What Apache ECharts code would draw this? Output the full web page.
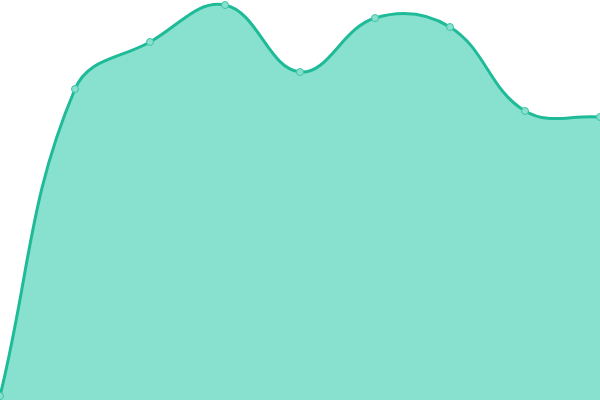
<!DOCTYPE html>
<html><head><meta charset="utf-8">
<script src="https://cdn.jsdelivr.net/npm/echarts@6/dist/echarts.min.js"></script>
<style>html,body{margin:0;padding:0;background:#fff}#c{width:600px;height:400px}</style>
</head><body><div id="c"></div>
<script>
const categories = ['1','2','3','4','5','6','7','8','9'];
const values = [4, 311, 358, 395, 328, 382, 373, 289, 283];
const TENSION = 0.4;

function splinePath(pts) {
  const n = pts.length;
  const cps = pts.map((cur, i) => {
    const prev = pts[Math.max(0, i - 1)];
    const next = pts[Math.min(n - 1, i + 1)];
    const d01 = Math.hypot(cur[0] - prev[0], cur[1] - prev[1]);
    const d12 = Math.hypot(next[0] - cur[0], next[1] - cur[1]);
    const tot = d01 + d12 || 1;
    const fa = TENSION * d01 / tot, fb = TENSION * d12 / tot;
    const vx = next[0] - prev[0], vy = next[1] - prev[1];
    return {
      pre: [cur[0] - fa * vx, cur[1] - fa * vy],
      post: [cur[0] + fb * vx, cur[1] + fb * vy]
    };
  });
  let d = 'M' + pts[0][0] + ' ' + pts[0][1];
  for (let i = 1; i < n; i++) {
    const a = cps[i - 1].post, b = cps[i].pre;
    d += ' C' + a[0] + ' ' + a[1] + ' ' + b[0] + ' ' + b[1] + ' ' + pts[i][0] + ' ' + pts[i][1];
  }
  return d;
}

const chart = echarts.init(document.getElementById('c'), null, {renderer:'canvas'});
chart.setOption({
  animation:false,
  grid:{left:0,right:0,top:0,bottom:0},
  xAxis:{type:'category',data:categories,boundaryGap:false,show:false},
  yAxis:{type:'value',min:0,max:400,show:false},
  series:[{
    type:'custom',
    clip:false,
    data: values.map((v,i)=>[i,v]),
    renderItem:function(params, api){
      if (params.dataIndex !== 0) return {type:'group', children:[]};
      const pts = values.map((v,i)=>api.coord([i,v]));
      const base = api.coord([0,0])[1];
      const line = splinePath(pts);
      const area = line + ' L' + pts[pts.length-1][0] + ' ' + base + ' L' + pts[0][0] + ' ' + base + ' Z';
      return {type:'group', children:[
        {type:'path', shape:{pathData:area}, style:{fill:'#88e0cf', stroke:null}},
        {type:'path', shape:{pathData:line}, style:{fill:'none', stroke:'#1fbb98', lineWidth:3}}
      ]};
    },
    z:1
  },{
    type:'scatter',
    data: values.map((v,i)=>[i,v]),
    symbol:'circle', symbolSize:7,
    itemStyle:{color:'#88e0cf', borderColor:'#3cc4a4', borderWidth:1, opacity:1},
    z:3
  }]
});
</script></body></html>
